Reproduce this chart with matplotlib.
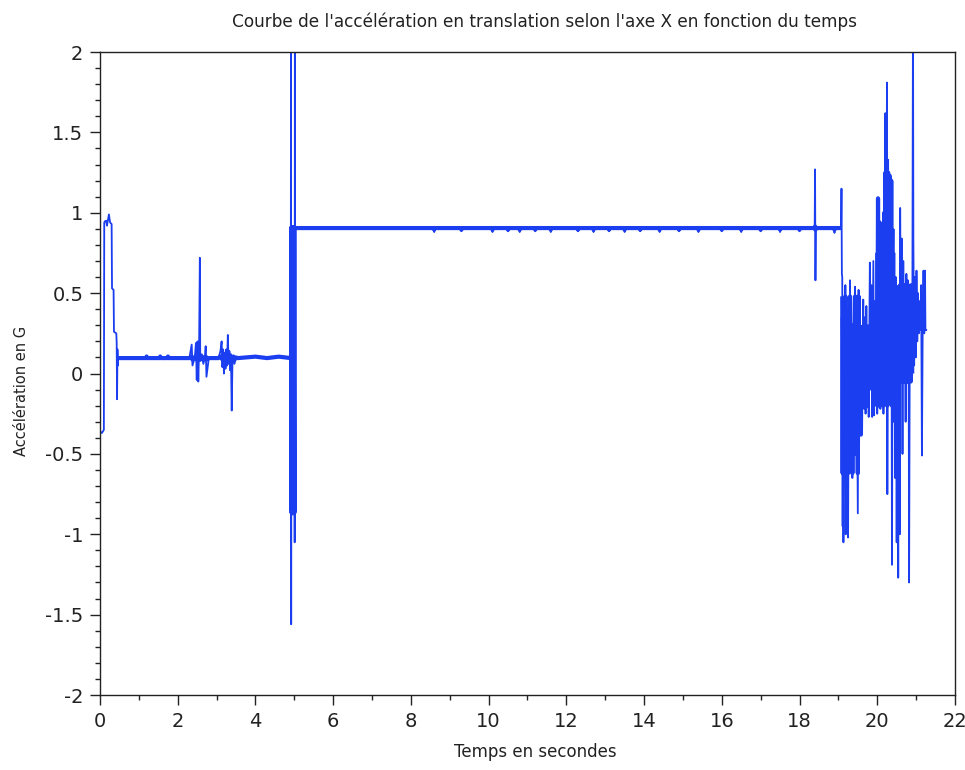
import numpy as np
import matplotlib
matplotlib.use("Agg")
import matplotlib.pyplot as plt
from matplotlib.ticker import MultipleLocator

plt.rcParams.update({
    "font.family": ["DejaVu Sans"],
    "axes.unicode_minus": False,
})

# ---- data (time in s, acceleration in G) ----
start_t = [0.00, 0.05, 0.10, 0.11, 0.14, 0.16, 0.18, 0.21, 0.23, 0.26, 0.30,
           0.31, 0.35, 0.36, 0.42, 0.43, 0.44, 0.45, 0.46, 0.47]
start_a = [-0.36, -0.37, -0.35, 0.94, 0.95, 0.95, 0.92, 0.96, 0.99, 0.94, 0.93,
           0.53, 0.52, 0.26, 0.25, 0.19, -0.16, 0.15, 0.05, 0.096]

low_t = [0.80, 1.19, 1.20, 1.21, 1.54, 1.55, 1.56, 1.74, 1.75, 1.76, 2.30,
         2.36, 2.38, 2.44, 2.47, 2.49, 2.51, 2.53, 2.55, 2.57, 2.58, 2.62,
         2.66, 2.70, 2.72, 2.74, 2.80, 3.05, 3.10, 3.13, 3.15, 3.17, 3.19,
         3.21, 3.23, 3.25, 3.27, 3.29, 3.31, 3.33, 3.35, 3.37, 3.39, 3.41,
         3.43, 3.46, 3.50, 3.55, 4.00, 4.30, 4.60, 4.91]
low_a = [0.096, 0.096, 0.11, 0.096, 0.096, 0.11, 0.096, 0.096, 0.11, 0.096, 0.096,
         0.18, 0.05, 0.10, 0.19, -0.04, 0.20, -0.05, 0.15, 0.72, 0.08, 0.12,
         0.06, 0.10, 0.17, -0.02, 0.096, 0.096, 0.14, 0.20, 0.04, 0.15, 0.00,
         0.13, 0.03, 0.15, 0.05, 0.24, 0.06, 0.14, 0.02, 0.12, -0.23, 0.08,
         0.11, 0.06, 0.10, 0.096, 0.105, 0.096, 0.105, 0.096]

jump_t = [4.915, 4.92, 4.925, 4.935, 4.94, 4.95, 4.955, 4.965, 4.97, 4.98,
          4.985, 4.995, 5.00, 5.01, 5.015, 5.02, 5.03]
jump_a = [2.3, -1.56, 0.91, -0.85, 0.90, -0.80, 0.91, -0.87, 0.90, -0.70,
          0.91, -0.86, 0.90, -1.05, 2.3, 0.905, 0.905]

dip_t = [8.6, 9.3, 10.1, 10.5, 10.8, 11.2, 11.6, 12.3, 12.7, 13.1, 13.5,
         13.9, 14.4, 14.9, 15.4, 16.0, 16.5, 17.0, 17.5, 18.0, 18.9]
dip_a = [0.88, 0.885, 0.88, 0.885, 0.88, 0.885, 0.88, 0.885, 0.88, 0.885, 0.88,
         0.885, 0.88, 0.885, 0.88, 0.885, 0.88, 0.885, 0.88, 0.885, 0.875]
level_high = 0.905

spike_t = [18.40, 18.41]
spike_a = [1.27, 0.58]

end_t = [19.08, 19.09, 19.10, 19.11, 19.12, 19.13, 19.15, 19.16, 19.18, 19.19,
         19.21, 19.22, 19.24, 19.25, 19.27, 19.29, 19.30, 19.32, 19.34, 19.36,
         19.38, 19.40, 19.43, 19.45, 19.47, 19.50, 19.52, 19.54, 19.56, 19.58,
         19.60, 19.62, 19.64, 19.66, 19.68, 19.70, 19.72, 19.74, 19.76, 19.78,
         19.81, 19.83, 19.85, 19.87, 19.90, 19.92, 19.94, 19.96, 19.98, 20.00,
         20.02, 20.04, 20.06, 20.08, 20.10, 20.12, 20.14, 20.16, 20.18, 20.19,
         20.21, 20.23, 20.25, 20.26, 20.28, 20.30, 20.32, 20.34, 20.36, 20.38,
         20.40, 20.42, 20.44, 20.46, 20.48, 20.50, 20.52, 20.54, 20.56, 20.58,
         20.59, 20.61, 20.63, 20.65, 20.67, 20.69, 20.71, 20.73, 20.75, 20.77,
         20.79, 20.81, 20.82, 20.84, 20.86, 20.88, 20.90, 20.92, 20.93, 20.95,
         20.97, 20.99, 21.01, 21.03, 21.05, 21.07, 21.09, 21.11, 21.13, 21.15,
         21.17, 21.19, 21.21, 21.23, 21.24, 21.26]
end_a = [1.15, 0.62, 0.60, -0.95, 0.35, -1.05, 0.45, -0.60, 0.55, -1.00,
         0.20, -0.75, 0.40, -1.02, 0.30, -0.40, 0.58, -0.30, 0.30, -0.65,
         0.25, -0.20, 0.54, -0.50, 0.28, -0.87, 0.52, -0.15, 0.25, -0.38,
         0.29, -0.15, 0.46, -0.22, 0.35, -0.25, 0.42, -0.21, 0.30, -0.27,
         0.69, -0.10, 0.55, -0.27, 0.70, -0.26, 0.45, -0.20, 0.75, -0.25,
         1.09, -0.20, 0.94, -0.22, 0.86, -0.18, 0.84, -0.25, 1.00, 0.00,
         1.62, 0.10, 1.81, -0.75, 1.33, 0.20, 1.23, 0.00, 1.20, -1.19,
         0.90, -0.30, 0.75, -0.65, 0.60, -1.05, 0.50, -1.27, 0.55, -1.00,
         1.03, -0.06, 0.84, -0.50, 0.70, -0.06, 0.55, -0.30, 0.62, -0.06,
         0.58, -0.10, -1.30, 0.50, -0.05, 0.55, 0.00, 2.30, 0.83, 0.05,
         0.60, 0.10, 0.64, 0.20, 0.50, 0.25, 0.45, 0.27, 0.55, -0.51,
         0.30, 0.64, 0.25, 0.64, 0.27, 0.27]

# dense stretches that show as a solid band: (t from, t to, low, high)
bands = [(0.47, 4.91, 0.086, 0.106),
         (4.92, 5.01, -0.87, 0.91),
         (5.02, 19.07, 0.895, 0.915),
         (19.10, 19.62, -0.62, 0.48),
         (20.00, 20.40, -0.20, 1.25),
         (20.55, 20.90, -0.05, 0.55)]

yticks = [-2, -1.5, -1, -0.5, 0, 0.5, 1, 1.5, 2]

# plateau at 0.905 G with its small dips, then the spike at 18.4 s
high_t, high_a = [5.03], [level_high]
for td, ad in zip(dip_t, dip_a):
    high_t += [td - 0.01, td, td + 0.01]
    high_a += [level_high, ad, level_high]
high_t += [spike_t[0] - 0.01] + spike_t + [spike_t[-1] + 0.01]
high_a += [level_high] + spike_a + [level_high]
order = np.argsort(high_t, kind="stable")
high_t = list(np.array(high_t)[order]) + [19.07]
high_a = list(np.array(high_a)[order]) + [level_high]

t = np.array(start_t + low_t + jump_t + high_t + end_t, dtype=float)
acc = np.array(start_a + low_a + jump_a + high_a + end_a, dtype=float)

title = "Courbe de l'accélération en translation selon l'axe X en fonction du temps"
xlabel = "Temps en secondes"
ylabel = "Accélération en G"
blue = "#1a3ef0"
ink = "#222222"

fig = plt.figure(figsize=(9.65, 7.7), dpi=100)
ax = fig.add_axes([0.1036, 0.0974, 0.886, 0.835])

ax.plot(t, acc, color=blue, lw=1.3)
for t0, t1, lo, hi in bands:
    m = (t >= t0) & (t <= t1)
    ax.plot(t[m], np.clip(acc[m], lo, hi), color=blue, lw=3.0,
            solid_capstyle="butt")

ax.xaxis.set_major_locator(MultipleLocator(2))
ax.xaxis.set_minor_locator(MultipleLocator(1))
ax.set_yticks(yticks)
ax.set_yticklabels([f"{v:g}" for v in yticks])
ax.yaxis.set_minor_locator(MultipleLocator(0.1))
ax.set_xlim(0, 22)
ax.set_ylim(-2, 2)
ax.tick_params(which="both", direction="out", top=False, right=False,
               labelsize=14, colors=ink, width=1.0)
ax.tick_params(which="major", length=7, pad=5)
ax.tick_params(which="minor", length=3.5)
for s in ax.spines.values():
    s.set_linewidth(1.0)
    s.set_color(ink)

ax.set_title(title, fontsize=12.2, pad=18, color=ink, x=0.52)
ax.set_xlabel(xlabel, fontsize=12, labelpad=8, color=ink)
ax.xaxis.set_label_coords(0.509, -0.075)
ax.set_ylabel(ylabel, fontsize=10.5, labelpad=12, color=ink)
ax.yaxis.set_label_coords(-0.083, 0.473)

fig.savefig("out.png", dpi=100, facecolor="white")
